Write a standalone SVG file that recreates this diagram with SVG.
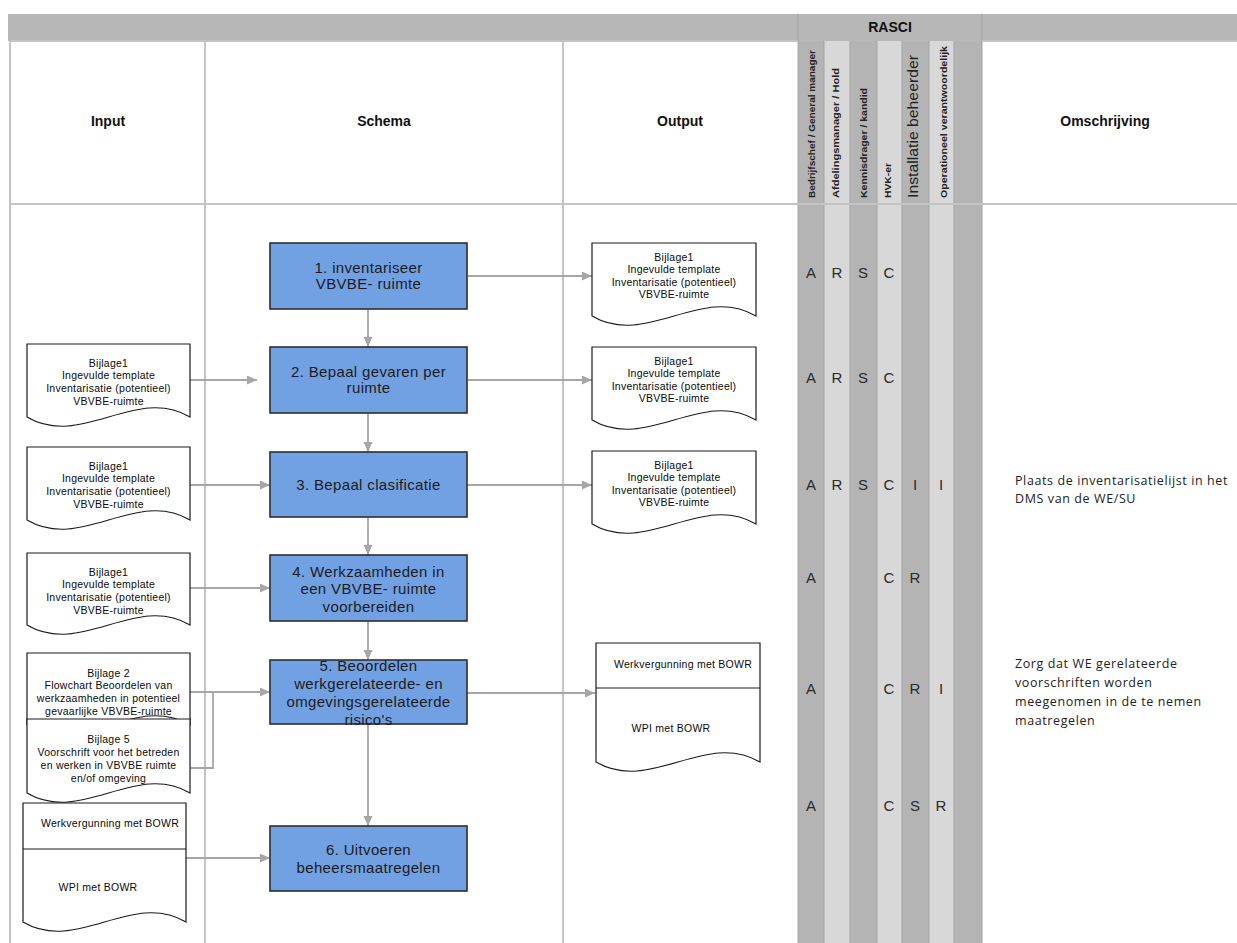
<svg xmlns="http://www.w3.org/2000/svg" width="1237" height="943" viewBox="0 0 1237 943">
<style>
.box{fill:#72a1e3;stroke:#2e2e2e;stroke-width:1.6}
.doc{fill:#fff;stroke:#1a1a1a;stroke-width:1.2}
.bt{font-family:"Liberation Sans",Arial,sans-serif;font-size:15px;fill:#1c1c1c;text-anchor:middle;letter-spacing:0.35px}
.dt{font-family:"Liberation Sans",Arial,sans-serif;font-size:10.5px;fill:#0a0a0a;text-anchor:middle;letter-spacing:0.25px}
.hd{font-family:"Liberation Sans",Arial,sans-serif;font-size:14px;font-weight:bold;fill:#111;text-anchor:middle}
.rl{font-family:"Liberation Sans",Arial,sans-serif;font-size:15px;fill:#2b2b2b;text-anchor:middle}
.rh{font-family:"Liberation Sans",Arial,sans-serif;font-size:9.5px;font-weight:bold;fill:#222}
.om{font-family:"Open Sans","Liberation Sans",sans-serif;font-size:12.5px;fill:#222;letter-spacing:0.6px}
.conn{stroke:#a6a6a6;stroke-width:1.8;fill:none}
.arr{marker-end:url(#ah)}
.grid{stroke:#c4c4c4;stroke-width:2;fill:none}
.dk{fill:#b4b4b4}
.lt{fill:#d8d8d8}
.cdiv{stroke:#a3a3a3;stroke-width:1}
</style>
<defs>
<marker id="ah" markerUnits="userSpaceOnUse" markerWidth="11" markerHeight="10" refX="10" refY="4.5" orient="auto">
<path d="M0,0 L10,4.5 L0,9 Z" fill="#a6a6a6"/>
</marker>
</defs>
<rect width="1237" height="943" fill="#fff"/>
<g id="table">
<rect x="8" y="14" width="1229" height="27" fill="#b7b7b7"/>
<rect class="dk" x="798" y="41" width="26" height="902"/>
<rect class="lt" x="824" y="41" width="26" height="902"/>
<rect class="dk" x="850" y="41" width="27" height="902"/>
<rect class="lt" x="877" y="41" width="25" height="902"/>
<rect class="dk" x="902" y="41" width="27" height="902"/>
<rect class="lt" x="929" y="41" width="25" height="902"/>
<rect class="dk" x="954" y="41" width="28" height="902"/>
<g class="cdiv">
<line x1="798" y1="14" x2="798" y2="943"/>
<line x1="824" y1="41" x2="824" y2="943"/>
<line x1="850" y1="41" x2="850" y2="943"/>
<line x1="877" y1="41" x2="877" y2="943"/>
<line x1="902" y1="41" x2="902" y2="943"/>
<line x1="929" y1="41" x2="929" y2="943"/>
<line x1="954" y1="41" x2="954" y2="943"/>
<line x1="982" y1="14" x2="982" y2="943"/>
</g>
<line class="grid" x1="10" y1="41" x2="10" y2="943"/>
<line class="grid" x1="205" y1="41" x2="205" y2="943"/>
<line class="grid" x1="563" y1="41" x2="563" y2="943"/>
<line class="grid" x1="10" y1="41" x2="798" y2="41" stroke-width="1"/>
<line class="grid" x1="982" y1="41" x2="1237" y2="41" stroke-width="1"/>
<line class="grid" x1="10" y1="204" x2="1237" y2="204" stroke="#b8b8b8"/>
<text class="hd" x="890" y="32">RASCI</text>
<text class="hd" x="108" y="126">Input</text>
<text class="hd" x="384" y="126">Schema</text>
<text class="hd" x="680" y="126">Output</text>
<text class="hd" x="1105" y="126">Omschrijving</text>
<text class="rh" transform="translate(815,198) rotate(-90)" textLength="148" lengthAdjust="spacingAndGlyphs">Bedrijfschef / General manager</text>
<text class="rh" transform="translate(839,198) rotate(-90)" textLength="130" lengthAdjust="spacingAndGlyphs">Afdelingsmanager / Hold</text>
<text class="rh" transform="translate(866.5,198) rotate(-90)" textLength="110" lengthAdjust="spacingAndGlyphs">Kennisdrager / kandid</text>
<text class="rh" transform="translate(890.5,198) rotate(-90)" textLength="35" lengthAdjust="spacingAndGlyphs">HVK-er</text>
<text class="rh" transform="translate(918,198) rotate(-90)" style="font-size:14px;font-weight:normal" textLength="143" lengthAdjust="spacingAndGlyphs">Installatie beheerder</text>
<text class="rh" transform="translate(946.5,198) rotate(-90)" textLength="152" lengthAdjust="spacingAndGlyphs">Operationeel verantwoordelijk</text>
</g>
<g id="rasci">
<text class="rl" x="811" y="278">A</text><text class="rl" x="837" y="278">R</text><text class="rl" x="863" y="278">S</text><text class="rl" x="889" y="278">C</text>
<text class="rl" x="811" y="383">A</text><text class="rl" x="837" y="383">R</text><text class="rl" x="863" y="383">S</text><text class="rl" x="889" y="383">C</text>
<text class="rl" x="811" y="490">A</text><text class="rl" x="837" y="490">R</text><text class="rl" x="863" y="490">S</text><text class="rl" x="889" y="490">C</text><text class="rl" x="915" y="490">I</text><text class="rl" x="941" y="490">I</text>
<text class="rl" x="811" y="583">A</text><text class="rl" x="889" y="583">C</text><text class="rl" x="915" y="583">R</text>
<text class="rl" x="811" y="694">A</text><text class="rl" x="889" y="694">C</text><text class="rl" x="915" y="694">R</text><text class="rl" x="941" y="694">I</text>
<text class="rl" x="811" y="811">A</text><text class="rl" x="889" y="811">C</text><text class="rl" x="915" y="811">S</text><text class="rl" x="941" y="811">R</text>
</g>
<g id="omschrijving">
<text class="om" x="1015" y="485">Plaats de inventarisatielijst in het</text>
<text class="om" x="1015" y="503">DMS van de WE/SU</text>
<text class="om" x="1015" y="668">Zorg dat WE gerelateerde</text>
<text class="om" x="1015" y="687">voorschriften worden</text>
<text class="om" x="1015" y="706">meegenomen in de te nemen</text>
<text class="om" x="1015" y="725">maatregelen</text>
</g>
<g id="connectors">
<line class="conn arr" x1="368" y1="309" x2="368" y2="347"/>
<line class="conn arr" x1="368" y1="413" x2="368" y2="452"/>
<line class="conn arr" x1="368" y1="517" x2="368" y2="555"/>
<line class="conn arr" x1="368" y1="621" x2="368" y2="660"/>
<line class="conn arr" x1="368" y1="724" x2="368" y2="826"/>
<line class="conn arr" x1="467" y1="276" x2="592" y2="276"/>
<line class="conn arr" x1="467" y1="380" x2="592" y2="380"/>
<line class="conn arr" x1="467" y1="485" x2="592" y2="485"/>
<line class="conn arr" x1="467" y1="693" x2="595" y2="693"/>
<line class="conn arr" x1="190" y1="380" x2="257" y2="380"/>
<line class="conn arr" x1="190" y1="485" x2="270" y2="485"/>
<line class="conn arr" x1="190" y1="588" x2="270" y2="588"/>
<line class="conn arr" x1="190" y1="692" x2="270" y2="692"/>
<path class="conn" d="M190,768 H213 V692"/>
<line class="conn arr" x1="186" y1="858" x2="270" y2="858"/>
</g>
<g id="step1"><rect class="box" x="270" y="243" width="197" height="66"/><text class="bt" x="368.5" y="273">1. inventariseer</text><text class="bt" x="368.5" y="289">VBVBE- ruimte</text></g>
<g id="step2"><rect class="box" x="270" y="347" width="197" height="66"/><text class="bt" x="368.5" y="377">2. Bepaal gevaren per</text><text class="bt" x="368.5" y="393">ruimte</text></g>
<g id="step3"><rect class="box" x="270" y="452" width="197" height="65"/><text class="bt" x="368.5" y="490">3. Bepaal clasificatie</text></g>
<g id="step4"><rect class="box" x="270" y="555" width="197" height="66"/><text class="bt" x="368.5" y="577">4. Werkzaamheden in</text><text class="bt" x="368.5" y="594">een VBVBE- ruimte</text><text class="bt" x="368.5" y="612">voorbereiden</text></g>
<g id="step5"><rect class="box" x="270" y="660" width="197" height="64"/><text class="bt" x="368.5" y="671">5. Beoordelen</text><text class="bt" x="368.5" y="689">werkgerelateerde- en</text><text class="bt" x="368.5" y="707">omgevingsgerelateerde</text><text class="bt" x="368.5" y="725">risico's</text></g>
<g id="step6"><rect class="box" x="270" y="826" width="197" height="65"/><text class="bt" x="368.5" y="855">6. Uitvoeren</text><text class="bt" x="368.5" y="873">beheersmaatregelen</text></g>
<g id="in1"><path class="doc" d="M27,344 H190 V417 C135.7,385 81.3,449 27,417 Z"/><text class="dt" x="108.5" y="366.5">Bijlage1</text><text class="dt" x="108.5" y="379">Ingevulde template</text><text class="dt" x="108.5" y="392">Inventarisatie (potentieel)</text><text class="dt" x="108.5" y="404.5">VBVBE-ruimte</text></g>
<g id="in2"><path class="doc" d="M27,447 H190 V520 C135.7,488 81.3,552 27,520 Z"/><text class="dt" x="108.5" y="469.5">Bijlage1</text><text class="dt" x="108.5" y="482">Ingevulde template</text><text class="dt" x="108.5" y="495">Inventarisatie (potentieel)</text><text class="dt" x="108.5" y="507.5">VBVBE-ruimte</text></g>
<g id="in3"><path class="doc" d="M27,553 H190 V625 C135.7,593 81.3,657 27,625 Z"/><text class="dt" x="108.5" y="575.5">Bijlage1</text><text class="dt" x="108.5" y="588">Ingevulde template</text><text class="dt" x="108.5" y="601">Inventarisatie (potentieel)</text><text class="dt" x="108.5" y="613.5">VBVBE-ruimte</text></g>
<g id="in4"><path class="doc" d="M27,653 H190 V725 C135.7,693 81.3,757 27,725 Z"/><text class="dt" x="108.5" y="676.5">Bijlage 2</text><text class="dt" x="108.5" y="688.5">Flowchart Beoordelen van</text><text class="dt" x="108.5" y="701.5">werkzaamheden in potentieel</text><text class="dt" x="108.5" y="714.5">gevaarlijke VBVBE-ruimte</text></g>
<g id="in5"><path class="doc" d="M27,719 H190 V793 C135.7,761 81.3,825 27,793 Z"/><text class="dt" x="108.5" y="742.5">Bijlage 5</text><text class="dt" x="108.5" y="755.5">Voorschrift voor het betreden</text><text class="dt" x="108.5" y="768.5">en werken in VBVBE ruimte</text><text class="dt" x="108.5" y="781.5">en/of omgeving</text></g>
<g id="in6"><path class="doc" d="M23,803 H186 V922 C131.7,890 77.3,954 23,922 Z"/><line x1="23" y1="849" x2="186" y2="849" stroke="#1a1a1a" stroke-width="1.2"/><text class="dt" x="110" y="827">Werkvergunning met BOWR</text><text class="dt" x="98" y="891">WPI met BOWR</text></g>
<g id="out1"><path class="doc" d="M592,243 H756 V316 C701.3,284 646.7,348 592,316 Z"/><text class="dt" x="674" y="260.5">Bijlage1</text><text class="dt" x="674" y="273">Ingevulde template</text><text class="dt" x="674" y="285.5">Inventarisatie (potentieel)</text><text class="dt" x="674" y="298">VBVBE-ruimte</text></g>
<g id="out2"><path class="doc" d="M592,347 H756 V420 C701.3,388 646.7,452 592,420 Z"/><text class="dt" x="674" y="364.5">Bijlage1</text><text class="dt" x="674" y="377">Ingevulde template</text><text class="dt" x="674" y="389.5">Inventarisatie (potentieel)</text><text class="dt" x="674" y="402">VBVBE-ruimte</text></g>
<g id="out3"><path class="doc" d="M592,451 H756 V524 C701.3,492 646.7,556 592,524 Z"/><text class="dt" x="674" y="468.5">Bijlage1</text><text class="dt" x="674" y="481">Ingevulde template</text><text class="dt" x="674" y="493.5">Inventarisatie (potentieel)</text><text class="dt" x="674" y="506">VBVBE-ruimte</text></g>
<g id="out5"><path class="doc" d="M596,643 H760 V762 C705.3,730 650.7,794 596,762 Z"/><line x1="596" y1="688" x2="760" y2="688" stroke="#1a1a1a" stroke-width="1.2"/><text class="dt" x="683" y="668">Werkvergunning met BOWR</text><text class="dt" x="671" y="732">WPI met BOWR</text></g>
</svg>
